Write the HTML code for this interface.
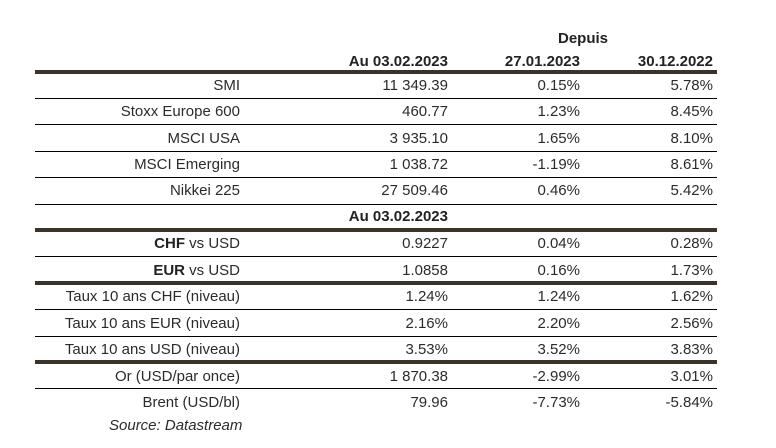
<!DOCTYPE html><html><head><style>
body{margin:0;width:776px;height:448px;background:#fff;position:relative;font-family:"Liberation Sans",sans-serif;color:#2b2b2b;font-size:15px;overflow:hidden}
.t{position:absolute;white-space:nowrap;line-height:18px}
.r{text-align:right}
.l{position:absolute;left:35px;width:682px;background:#000;height:1px}
.k{position:absolute;left:35px;width:682px;background:#3b3329;height:4px}
b{font-weight:bold;color:#222}
</style></head><body>
<div class="t" style="left:558px;top:30px;font-weight:bold;color:#222">Depuis</div>
<div class="t r" style="right:328px;top:53px;font-weight:bold;color:#222">Au 03.02.2023</div>
<div class="t r" style="right:196px;top:53px;font-weight:bold;color:#222">27.01.2023</div>
<div class="t r" style="right:63px;top:53px;font-weight:bold;color:#222">30.12.2022</div>
<div class="k" style="top:70px"></div>
<div class="l" style="top:98px"></div>
<div class="l" style="top:124px"></div>
<div class="l" style="top:151px"></div>
<div class="l" style="top:177px"></div>
<div class="l" style="top:204px"></div>
<div class="k" style="top:228px"></div>
<div class="l" style="top:256px"></div>
<div class="k" style="top:281px"></div>
<div class="l" style="top:309px"></div>
<div class="l" style="top:336px"></div>
<div class="k" style="top:360px"></div>
<div class="l" style="top:388px"></div>
<div id="rows"></div>
<div class="t" style="left:109px;top:417px;font-style:italic">Source: Datastream</div>
<script>
var rows=[[77,"SMI","11 349.39","0.15%","5.78%"],[103,"Stoxx Europe 600","460.77","1.23%","8.45%"],[130,"MSCI USA","3 935.10","1.65%","8.10%"],[156,"MSCI Emerging","1 038.72","-1.19%","8.61%"],[182,"Nikkei 225","27 509.46","0.46%","5.42%"],[208,"","<b>Au 03.02.2023</b>","",""],[235,"<b>CHF</b> vs USD","0.9227","0.04%","0.28%"],[262,"<b>EUR</b> vs USD","1.0858","0.16%","1.73%"],[288,"Taux 10 ans CHF (niveau)","1.24%","1.24%","1.62%"],[315,"Taux 10 ans EUR (niveau)","2.16%","2.20%","2.56%"],[341,"Taux 10 ans USD (niveau)","3.53%","3.52%","3.83%"],[368,"Or (USD/par once)","1 870.38","-2.99%","3.01%"],[394,"Brent (USD/bl)","79.96","-7.73%","-5.84%"]];
var h="";rows.forEach(function(r){var y=r[0];
h+='<div class="t r" style="right:536px;top:'+y+'px">'+r[1]+'</div>';
h+='<div class="t r" style="right:328px;top:'+y+'px">'+r[2]+'</div>';
h+='<div class="t r" style="right:196px;top:'+y+'px">'+r[3]+'</div>';
h+='<div class="t r" style="right:63px;top:'+y+'px">'+r[4]+'</div>';});
document.getElementById("rows").innerHTML=h;
</script>
</body></html>
